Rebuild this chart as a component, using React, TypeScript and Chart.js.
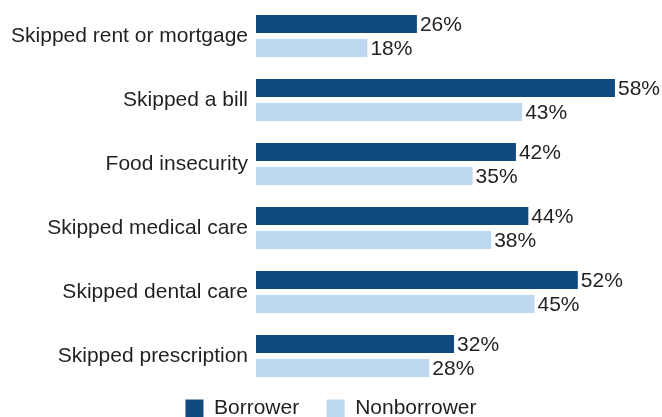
import React, { useEffect, useRef } from "react";
import { Chart, registerables } from "chart.js";

Chart.register(...registerables);

const categories = [
  "Skipped rent or mortgage",
  "Skipped a bill",
  "Food insecurity",
  "Skipped medical care",
  "Skipped dental care",
  "Skipped prescription",
];
const borrower = [26, 58, 42, 44, 52, 32];
const nonborrower = [18, 43, 35, 38, 45, 28];
const seriesNames = ["Borrower", "Nonborrower"];

const DARK = "#114b7d";
const LIGHT = "#bdd8ee";
const TEXT = "#231f20";
const FONT = "'Liberation Sans', Arial, sans-serif";

const valueLabels = {
  id: "valueLabels",
  afterDatasetsDraw(chart: any) {
    const ctx = chart.ctx;
    ctx.save();
    ctx.font = `21px ${FONT}`;
    ctx.fillStyle = TEXT;
    ctx.textBaseline = "middle";
    ctx.textAlign = "left";
    chart.data.datasets.forEach((ds: any, i: number) => {
      const meta = chart.getDatasetMeta(i);
      meta.data.forEach((bar: any, j: number) => {
        ctx.fillText(`${ds.data[j]}%`, bar.x + 3, bar.y + 1);
      });
    });
    ctx.restore();
  },
};

export default function App() {
  const ref = useRef<HTMLCanvasElement | null>(null);
  useEffect(() => {
    if (!ref.current) return;
    const chart = new Chart(ref.current, {
      type: "bar",
      data: {
        labels: categories,
        datasets: [
          {
            label: seriesNames[0],
            data: borrower,
            backgroundColor: DARK,
            categoryPercentage: 0.75,
            barPercentage: 0.75,
          },
          {
            label: seriesNames[1],
            data: nonborrower,
            backgroundColor: LIGHT,
            categoryPercentage: 0.75,
            barPercentage: 0.75,
          },
        ],
      },
      options: {
        indexAxis: "y",
        animation: false,
        responsive: false,
        maintainAspectRatio: false,
        layout: { padding: { left: 0, right: 0, top: 4, bottom: 0 } },
        scales: {
          x: { display: false, min: 0, max: 65.6 },
          y: {
            grid: { display: false, drawTicks: false },
            border: { display: false },
            ticks: {
              color: TEXT,
              font: { size: 21, family: FONT },
              padding: 8,
            },
            afterFit(scale: any) {
              scale.width = 256;
              scale.paddingTop = 0;
              scale.paddingBottom = 0;
            },
          },
        },
        plugins: {
          tooltip: { enabled: false },
          legend: {
            position: "bottom",
            labels: {
              color: TEXT,
              font: { size: 21, family: FONT },
              boxWidth: 18,
              boxHeight: 18,
              padding: 10,
              generateLabels(ch: any) {
                const n = ch.data.datasets.length;
                return ch.data.datasets.map((ds: any, i: number) => ({
                  text: ds.label + (i < n - 1 ? "   " : ""),
                  fillStyle: ds.backgroundColor,
                  strokeStyle: ds.backgroundColor,
                  lineWidth: 0,
                  fontColor: TEXT,
                  hidden: false,
                  datasetIndex: i,
                }));
              },
            },
          },
        },
      },
      plugins: [valueLabels],
    });
    return () => chart.destroy();
  }, []);
  return (
    <div
      style={{
        position: "fixed",
        left: 0,
        top: 0,
        width: 662,
        height: 417,
        overflow: "hidden",
        background: "#fff",
      }}
    >
      <canvas ref={ref} width={662} height={429} style={{ display: "block" }} />
    </div>
  );
}
